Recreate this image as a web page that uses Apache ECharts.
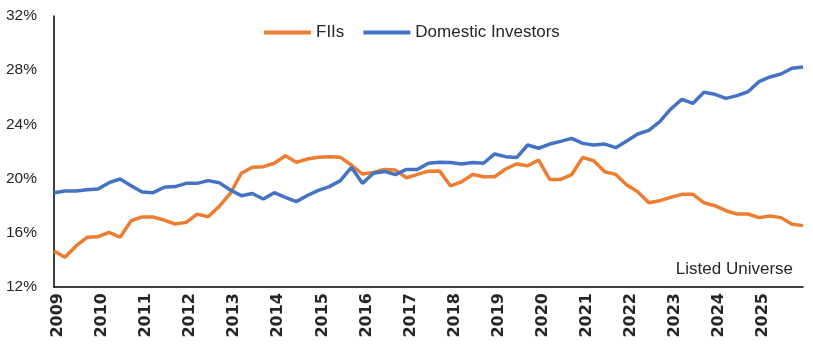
<!DOCTYPE html>
<html>
<head>
<meta charset="utf-8">
<script src="https://cdn.jsdelivr.net/npm/echarts@6/dist/echarts.min.js"></script>
<style>html,body{margin:0;padding:0;background:#fff;}#c{width:813px;height:346px;}</style>
</head>
<body>
<div id="c"></div>
<script>
const categories = [
'2009 Q1','2009 Q2','2009 Q3','2009 Q4','2010 Q1','2010 Q2','2010 Q3','2010 Q4',
'2011 Q1','2011 Q2','2011 Q3','2011 Q4','2012 Q1','2012 Q2','2012 Q3','2012 Q4',
'2013 Q1','2013 Q2','2013 Q3','2013 Q4','2014 Q1','2014 Q2','2014 Q3','2014 Q4',
'2015 Q1','2015 Q2','2015 Q3','2015 Q4','2016 Q1','2016 Q2','2016 Q3','2016 Q4',
'2017 Q1','2017 Q2','2017 Q3','2017 Q4','2018 Q1','2018 Q2','2018 Q3','2018 Q4',
'2019 Q1','2019 Q2','2019 Q3','2019 Q4','2020 Q1','2020 Q2','2020 Q3','2020 Q4',
'2021 Q1','2021 Q2','2021 Q3','2021 Q4','2022 Q1','2022 Q2','2022 Q3','2022 Q4',
'2023 Q1','2023 Q2','2023 Q3','2023 Q4','2024 Q1','2024 Q2','2024 Q3','2024 Q4',
'2025 Q1','2025 Q2','2025 Q3','2025 Q4','2026 Q1'
];
const tickYears = ['2009','2010','2011','2012','2013','2014','2015','2016','2017','2018','2019','2020','2021','2022','2023','2024','2025'];
const fiis = [
14.66,14.19,15.03,15.67,15.71,16.03,15.67,16.89,17.17,17.17,16.94,16.65,16.77,17.38,17.18,17.95,
18.90,20.39,20.83,20.88,21.13,21.69,21.20,21.45,21.57,21.62,21.57,21.00,20.34,20.46,20.68,20.63,
20.06,20.31,20.55,20.57,19.46,19.76,20.30,20.14,20.14,20.71,21.08,20.95,21.37,19.94,19.94,20.30,
21.57,21.32,20.51,20.31,19.53,19.03,18.22,18.37,18.62,18.84,18.84,18.22,18.00,17.63,17.39,17.39,
17.12,17.24,17.12,16.63,16.53
];
const domestic = [
18.96,19.08,19.08,19.18,19.23,19.70,19.97,19.48,19.01,18.96,19.36,19.41,19.65,19.65,19.85,19.70,
19.16,18.74,18.90,18.49,18.96,18.62,18.30,18.75,19.13,19.41,19.85,20.83,19.65,20.39,20.53,20.29,
20.68,20.68,21.13,21.20,21.18,21.08,21.18,21.13,21.82,21.62,21.55,22.48,22.24,22.55,22.75,22.97,
22.60,22.48,22.55,22.28,22.77,23.29,23.56,24.20,25.14,25.85,25.55,26.37,26.22,25.92,26.12,26.41,
27.15,27.50,27.72,28.14,28.24
];
const seriesNames = ['FIIs','Domestic Investors'];
const noteText = 'Listed Universe';

const chart = echarts.init(document.getElementById('c'), null, {renderer:'canvas'});
const txt = '#262626';
chart.setOption({
  animation:false,
  backgroundColor:'#ffffff',
  grid:{left:54,right:10,top:16,bottom:59,containLabel:false},
  legend:{
    data:seriesNames, left:259, top:19, itemWidth:47, itemHeight:4, itemGap:19, icon:'rect',
    textStyle:{fontFamily:'Liberation Sans',fontSize:17,color:txt}
  },
  xAxis:{
    type:'category', data:categories, boundaryGap:false,
    axisLine:{lineStyle:{color:'#000',width:1.5}},
    axisTick:{show:false},
    axisLabel:{
      interval:function(i, v){return tickYears.indexOf(v.slice(0,4)) >= 0 && v.slice(5) === 'Q1';},
      rotate:90, margin:6, color:txt, fontFamily:'DejaVu Sans', fontWeight:'bold', fontSize:16,
      verticalAlign:'top', lineHeight:8,
      formatter:function(v){return v.slice(0,4);}}
  },
  yAxis:{
    type:'value', min:12, max:32, interval:4,
    axisLine:{show:true,lineStyle:{color:'#000',width:1.5}},
    axisTick:{show:false},
    splitLine:{show:false},
    axisLabel:{margin:17, color:txt, fontFamily:'Liberation Sans', fontSize:15.5, formatter:'{value}%'}
  },
  graphic:[{type:'text', right:20, top:261, style:{text:noteText, font:'17px "Liberation Sans"', fill:txt}}],
  series:[
    {name:seriesNames[0], type:'line', data:fiis, showSymbol:false, symbol:'none', lineStyle:{color:'#ED7D31',width:3.5}, itemStyle:{color:'#ED7D31'}},
    {name:seriesNames[1], type:'line', data:domestic, showSymbol:false, symbol:'none', lineStyle:{color:'#4472C4',width:3.5}, itemStyle:{color:'#4472C4'}}
  ]
});
</script>
</body>
</html>
